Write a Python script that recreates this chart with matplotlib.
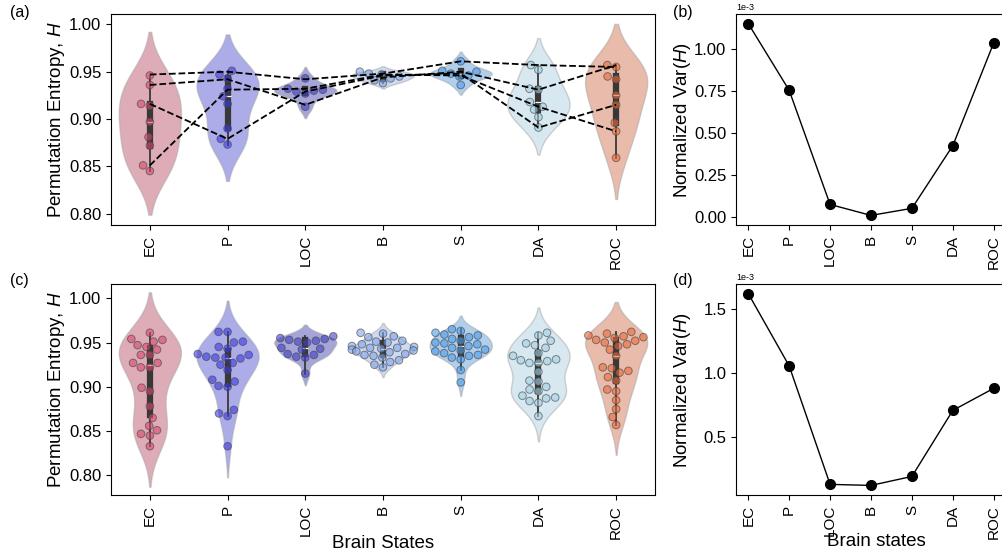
import numpy as np
import pandas as pd
import matplotlib
matplotlib.use("Agg")
import matplotlib.pyplot as plt
import seaborn as sns
from matplotlib.ticker import MultipleLocator
from matplotlib.collections import PolyCollection

plt.rcParams['font.family'] = ['Liberation Sans', 'DejaVu Sans']
plt.rcParams['mathtext.fontset'] = 'custom'
plt.rcParams['mathtext.rm'] = 'Liberation Sans'
plt.rcParams['mathtext.it'] = 'Liberation Sans:italic'
plt.rcParams['axes.unicode_minus'] = False

states = ["EC", "P", "LOC", "B", "S", "DA", "ROC"]

# ---- panel (a): permutation entropy per state (few subjects)
a_EC = [0.946, 0.936, 0.916, 0.914, 0.897, 0.881, 0.872, 0.851, 0.845]
a_P = [0.951, 0.947, 0.943, 0.932, 0.924, 0.916, 0.890, 0.879, 0.873]
a_LOC = [0.943, 0.932, 0.931, 0.930, 0.929, 0.927, 0.913]
a_B = [0.950, 0.948, 0.947, 0.945, 0.943, 0.941, 0.938]
a_S = [0.961, 0.951, 0.950, 0.948, 0.946, 0.945, 0.936]
a_DA = [0.957, 0.952, 0.932, 0.931, 0.918, 0.913, 0.910, 0.902, 0.891]
a_ROC = [0.957, 0.955, 0.945, 0.942, 0.925, 0.915, 0.896, 0.887, 0.859]

# subject trajectories (dashed lines) in panel (a)
subj1 = [0.947, 0.950, 0.942, 0.948, 0.961, 0.957, 0.955]
subj2 = [0.936, 0.942, 0.915, 0.944, 0.950, 0.931, 0.957]
subj3 = [0.916, 0.879, 0.929, 0.946, 0.948, 0.891, 0.915]
subj4 = [0.851, 0.931, 0.932, 0.947, 0.946, 0.913, 0.887]

# ---- panel (c): permutation entropy per state (all)
c_EC = [0.961, 0.954, 0.953, 0.951, 0.947, 0.945, 0.942, 0.936, 0.936, 0.927, 0.927,
        0.922, 0.922, 0.899, 0.895, 0.878, 0.865, 0.856, 0.851, 0.847, 0.845, 0.833]
c_P = [0.962, 0.962, 0.951, 0.950, 0.945, 0.943, 0.937, 0.936, 0.934, 0.933, 0.933, 0.932,
       0.927, 0.925, 0.919, 0.908, 0.906, 0.901, 0.900, 0.874, 0.870, 0.867, 0.833]
c_LOC = [0.957, 0.955, 0.954, 0.953, 0.952, 0.951, 0.950, 0.944, 0.943, 0.942, 0.937,
         0.936, 0.934, 0.933, 0.915]
c_B = [0.961, 0.960, 0.957, 0.956, 0.952, 0.951, 0.950, 0.948, 0.946, 0.945, 0.944, 0.944,
       0.943, 0.942, 0.941, 0.940, 0.939, 0.937, 0.936, 0.935, 0.933, 0.930, 0.928, 0.925, 0.922]
c_S = [0.965, 0.963, 0.961, 0.959, 0.958, 0.956, 0.954, 0.952, 0.950, 0.949, 0.948, 0.946,
       0.944, 0.942, 0.941, 0.940, 0.938, 0.936, 0.935, 0.933, 0.931, 0.919, 0.905]
c_DA = [0.961, 0.958, 0.952, 0.949, 0.947, 0.944, 0.938, 0.935, 0.931, 0.930, 0.929, 0.927,
        0.927, 0.917, 0.907, 0.906, 0.900, 0.897, 0.895, 0.890, 0.888, 0.887, 0.884, 0.882, 0.867]
c_ROC = [0.962, 0.960, 0.958, 0.957, 0.956, 0.955, 0.953, 0.952, 0.950, 0.948, 0.946, 0.942,
         0.935, 0.922, 0.921, 0.918, 0.916, 0.911, 0.907, 0.897, 0.895, 0.885, 0.875, 0.866, 0.857]

# ---- panels (b), (d): normalized variance (x 1e-3)
var_b = [1.150, 0.754, 0.077, 0.012, 0.054, 0.426, 1.036]
var_d = [1.623, 1.058, 0.133, 0.125, 0.195, 0.711, 0.883]

violin_colors = ["#d04a66", "#4646ea", "#3c3cc4", "#96b4ee", "#4ea0ee", "#aad4ea", "#ea6e44"]
point_colors = ["#d84a6a", "#3a3ae8", "#4040cc", "#7fa6ea", "#4d9eec", "#a2d2e6", "#ee6a3a"]

fig = plt.figure(figsize=(10.03, 5.59), dpi=100)
W, H = 1003.0, 559.0


def ax_px(l, t, r, b):
    return fig.add_axes([l / W, 1 - b / H, (r - l) / W, (b - t) / H])


def violin_panel(ax, groups):
    df = pd.DataFrame({
        "state": np.repeat(states, [len(g) for g in groups]),
        "H": np.concatenate(groups),
    })
    sns.violinplot(data=df, x="state", y="H", hue="state", order=states, hue_order=states,
                   palette=violin_colors, legend=False, density_norm="width", width=0.8,
                   cut=2, inner="box", linewidth=1.0, linecolor="0.22", alpha=0.5,
                   inner_kws=dict(box_width=4.5, whis_width=1.3), ax=ax)
    for coll in ax.collections:
        if isinstance(coll, PolyCollection):
            coll.set_edgecolor((0.65, 0.65, 0.65, 0.85))
    sns.swarmplot(data=df, x="state", y="H", hue="state", order=states, hue_order=states,
                  palette=point_colors, legend=False, size=5.5, edgecolor="0.25",
                  linewidth=0.7, alpha=0.6, ax=ax)
    ax.set_xlim(-0.5, 6.5)
    ax.set_ylabel("Permutation Entropy, $H$", fontsize=13.5)
    ax.yaxis.set_label_coords(-0.081, 0.5)
    ax.set_xlabel("")
    ax.yaxis.set_major_locator(MultipleLocator(0.05))
    ax.yaxis.set_major_formatter(plt.FormatStrFormatter("%.2f"))
    ax.tick_params(axis="y", labelsize=12)
    ax.tick_params(axis="x", labelsize=11, rotation=90)


def var_panel(ax, vals, step):
    ax.plot(states, np.array(vals) * 1e-3, "o-", color="black", ms=7, lw=1.0)
    ax.ticklabel_format(axis="y", style="sci", scilimits=(0, 0))
    ax.yaxis.set_major_locator(MultipleLocator(step))
    ax.yaxis.get_offset_text().set_fontsize(6.5)
    ax.set_ylabel("Normalized Var($H$)", fontsize=13.5)
    ax.yaxis.set_label_coords(-0.159, 0.5)
    ax.tick_params(axis="y", labelsize=12)
    ax.tick_params(axis="x", labelsize=11, rotation=90)


ax_a = ax_px(111, 14, 655, 225)
violin_panel(ax_a, [a_EC, a_P, a_LOC, a_B, a_S, a_DA, a_ROC])
xs = np.arange(len(states))
for subj in (subj1, subj2, subj3, subj4):
    ax_a.plot(xs, subj, "--", color="black", lw=1.3, zorder=5)
ax_a.set_ylim(0.788, 1.011)

ax_c = ax_px(111, 284, 655, 495)
violin_panel(ax_c, [c_EC, c_P, c_LOC, c_B, c_S, c_DA, c_ROC])
ax_c.set_ylim(0.778, 1.016)
ax_c.set_xlabel("Brain States", fontsize=13.5)
ax_c.xaxis.label.set_verticalalignment("center")
ax_c.xaxis.set_label_coords(0.5, -(544 - 495) / 211.0)

ax_b = ax_px(736, 14, 1006, 225)
var_panel(ax_b, var_b, 0.25e-3)

ax_d = ax_px(736, 284, 1006, 495)
var_panel(ax_d, var_d, 0.5e-3)
ax_d.set_xlabel("Brain states", fontsize=13.5)
ax_d.xaxis.label.set_verticalalignment("center")
ax_d.xaxis.set_label_coords((876 - 736) / 270.0, -(542 - 495) / 211.0)

for lab, x, y in (("(a)", 10, 12), ("(b)", 673, 12), ("(c)", 10, 281), ("(d)", 673, 281)):
    fig.text(x / W, 1 - y / H, lab, fontsize=11.5, ha="left", va="center")

fig.savefig("out.png", dpi=100)
